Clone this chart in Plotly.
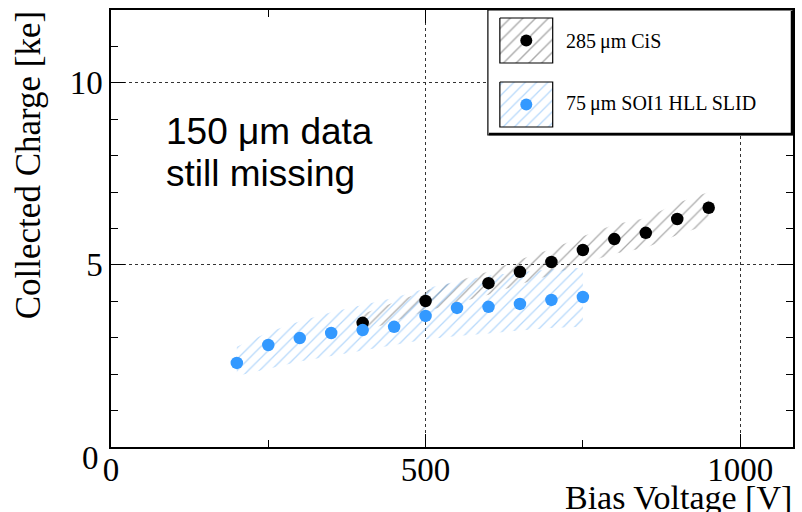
import plotly.graph_objects as go

# ---------------- data ----------------
cis_v = [400, 500, 600, 650, 700, 750, 800, 850, 900, 950]
cis_q = [3.41, 4.01, 4.50, 4.81, 5.08, 5.41, 5.71, 5.88, 6.26, 6.57]
cis_hi = [3.65, 4.29, 4.82, 5.15, 5.44, 5.79, 6.11, 6.29, 6.70, 7.00]
cis_lo = [3.17, 3.73, 4.18, 4.47, 4.72, 5.03, 5.31, 5.47, 5.82, 6.11]

soi_v = [200, 250, 300, 350, 400, 450, 500, 550, 600, 650, 700, 750]
soi_q = [2.31, 2.80, 2.99, 3.13, 3.21, 3.30, 3.60, 3.82, 3.85, 3.93, 4.04, 4.12]
soi_hi = [2.75, 3.15, 3.45, 3.70, 3.90, 4.10, 4.35, 4.55, 4.70, 4.80, 4.88, 4.92]
soi_lo = [1.95, 2.15, 2.35, 2.50, 2.65, 2.80, 2.95, 3.05, 3.12, 3.20, 3.27, 3.30]

x_ticks = [0, 500, 1000]
y_ticks = [5, 10]
series_names = ["285\u2009\u03bcm CiS", "75\u2009\u03bcm SOI1 HLL SLID"]
note_lines = ["150 \u03bcm data", "still missing"]

BLACK = "#000000"
BLUE = "#3399ff"
SERIF = "Liberation Serif"

W, H = 802, 512
L, R, T, B = 111, 795, 10, 447   # plot area in px


def px(xp):
    return (xp - L) / (R - L)


def py(yp):
    return (B - yp) / (B - T)


fig = go.Figure()

# bands
fig.add_trace(go.Scatter(
    x=cis_v + cis_v[::-1], y=cis_hi + cis_lo[::-1], fill="toself", mode="none",
    fillcolor="rgba(0,0,0,0)",
    fillpattern=dict(shape="/", fgcolor="#5a5a5a", bgcolor="rgba(0,0,0,0)", size=9, solidity=0.14),
    showlegend=False, hoverinfo="skip"))
fig.add_trace(go.Scatter(
    x=soi_v + soi_v[::-1], y=soi_hi + soi_lo[::-1], fill="toself", mode="none",
    fillcolor="rgba(0,0,0,0)",
    fillpattern=dict(shape="/", fgcolor="#6fb3f7", bgcolor="rgba(0,0,0,0)", size=8, solidity=0.16),
    showlegend=False, hoverinfo="skip"))
# points
fig.add_trace(go.Scatter(x=cis_v, y=cis_q, mode="markers",
                         marker=dict(color=BLACK, size=12.5), name=series_names[0], showlegend=False))
fig.add_trace(go.Scatter(x=soi_v, y=soi_q, mode="markers",
                         marker=dict(color=BLUE, size=12.5), name=series_names[1], showlegend=False))

# ---- custom legend drawn on a pixel-coordinate overlay ----
lx0, lx1, ly0, ly1 = 489, 795, 10, 135
fig.add_trace(go.Scatter(x=[lx0, lx1, lx1, lx0, lx0], y=[ly0, ly0, ly1, ly1, ly0],
                         fill="toself", fillcolor="white", mode="lines",
                         line=dict(color=BLACK, width=1.2),
                         xaxis="x2", yaxis="y2", showlegend=False, hoverinfo="skip"))
fig.add_trace(go.Scatter(x=[lx0 + 1, lx1 - 1, lx1 - 1], y=[ly1 - 1, ly1 - 1, ly0 + 1], mode="lines",
                         line=dict(color=BLACK, width=2.5),
                         xaxis="x2", yaxis="y2", showlegend=False, hoverinfo="skip"))
sym = [(18, 63, "#5a5a5a", 9, BLACK), (82, 127, "#6fb3f7", 8, BLUE)]
for (y0, y1, hc, hs, mc) in sym:
    sx0, sx1 = 501, 554
    fig.add_trace(go.Scatter(x=[sx0, sx1, sx1, sx0, sx0], y=[y0, y0, y1, y1, y0],
                             fill="toself", fillcolor="white", mode="lines",
                             line=dict(color=BLACK, width=1.2),
                             fillpattern=dict(shape="/", fgcolor=hc, bgcolor="white", size=hs, solidity=0.16),
                             xaxis="x2", yaxis="y2", showlegend=False, hoverinfo="skip"))
    fig.add_trace(go.Scatter(x=[(sx0 + sx1) / 2], y=[(y0 + y1) / 2], mode="markers",
                             marker=dict(color=mc, size=12),
                             xaxis="x2", yaxis="y2", showlegend=False, hoverinfo="skip"))

annotations = []
for name, yc in zip(series_names, [41, 104]):
    annotations.append(dict(text=name, x=px(565), y=py(yc), xref="paper", yref="paper",
                            xanchor="left", yanchor="middle", showarrow=False,
                            font=dict(family=SERIF, size=20, color=BLACK)))
for line, yc in zip(note_lines, [131, 173]):
    annotations.append(dict(text=line, x=px(164), y=py(yc), xref="paper", yref="paper",
                            xanchor="left", yanchor="middle", showarrow=False,
                            font=dict(family="Liberation Sans", size=37, color=BLACK)))
# axis titles
annotations.append(dict(text="Collected Charge [ke]", x=px(29), y=py(9), xref="paper", yref="paper",
                        xanchor="center", yanchor="top", textangle=-90, showarrow=False,
                        font=dict(family=SERIF, size=35, color=BLACK)))
annotations.append(dict(text="Bias Voltage [V]", x=px(796), y=py(477), xref="paper", yref="paper",
                        xanchor="right", yanchor="top", showarrow=False,
                        font=dict(family=SERIF, size=34, color=BLACK)))
# shifted y "0" label
annotations.append(dict(text="0", x=px(101), y=py(458), xref="paper", yref="paper",
                        xanchor="right", yanchor="middle", showarrow=False,
                        font=dict(family=SERIF, size=33, color=BLACK)))

axis_common = dict(showline=True, linecolor=BLACK, linewidth=1.5, mirror="ticks",
                   ticks="inside", tickcolor=BLACK, tickwidth=1.2, zeroline=False,
                   showgrid=True, gridcolor="#333333", gridwidth=1, griddash="dot",
                   tickfont=dict(family=SERIF, size=33, color=BLACK),
                   layer="below traces")

fig.update_layout(
    width=W, height=H,
    margin=dict(l=L, r=W - R, t=T, b=H - B),
    paper_bgcolor="white", plot_bgcolor="white",
    showlegend=False,
    xaxis=dict(range=[0, 1084], tickvals=x_ticks, ticklen=13, ticklabelstandoff=-7,
               minor=dict(ticks="inside", dtick=250, tick0=0, ticklen=7, tickcolor=BLACK, showgrid=False),
               **axis_common),
    yaxis=dict(range=[0, 12], tickvals=y_ticks, ticklen=14,
               minor=dict(ticks="inside", dtick=1, tick0=0, ticklen=7, tickcolor=BLACK, showgrid=False),
               **axis_common),
    xaxis2=dict(overlaying="x", anchor="y2", range=[L, R], visible=False),
    yaxis2=dict(overlaying="y", anchor="x2", range=[B, T], visible=False),
    annotations=annotations,
)

fig.write_html("out.html")
